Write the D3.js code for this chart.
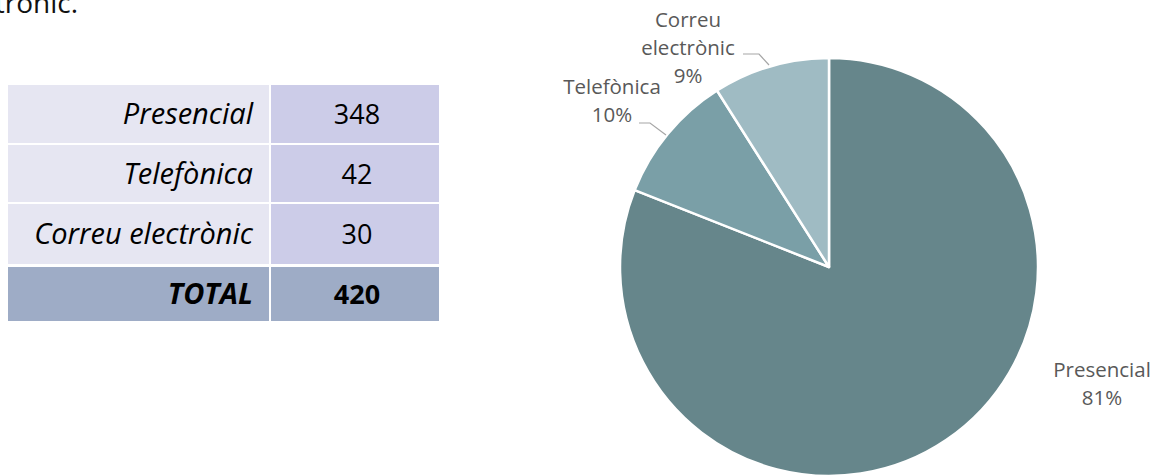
<!DOCTYPE html>
<html>
<head>
<meta charset="utf-8">
<script src="https://cdn.jsdelivr.net/npm/d3@7"></script>
<style>
    body { margin: 0; background: #fff; }
    svg { display: block; font-family: "Open Sans", "Noto Sans", sans-serif; }
</style>
</head>
<body>
<div id="chart"></div>
<script>
// dades de la taula
const tableLabels = ['Presencial', 'Telefònica', 'Correu electrònic'];
const tableValues = [348, 42, 30];
const totalLabel = 'TOTAL';
const totalValue = 420;

// dades del pastís (percentatges mostrats)
const pieLabels = ['Presencial', 'Telefònica', 'Correu electrònic'];
const pieShares = [81, 10, 9];

const PIE_COLORS = ['#66868b', '#7a9fa7', '#9fbbc3'];

const width = 1162;
const height = 476;

const svg = d3.select('#chart')
    .append('svg')
    .attr('width', width)
    .attr('height', height);

// text tallat de dalt a l'esquerra
svg.append('text')
    .attr('x', 78)
    .attr('y', 13)
    .attr('text-anchor', 'end')
    .attr('font-size', 28)
    .attr('fill', '#111')
    .text('electrònic.');

// --- taula ---
const rows = tableLabels.map((l, i) => ({ label: l, value: tableValues[i], total: false }));
rows.push({ label: totalLabel, value: totalValue, total: true });

const rowY = [85, 145, 204, 267];
const rowH = [58, 57, 60, 54];

const table = svg.append('g').attr('class', 'table');
const row = table.selectAll('g')
    .data(rows)
    .join('g')
    .attr('transform', (d, i) => `translate(0,${rowY[i]})`);

row.append('rect')
    .attr('x', 8)
    .attr('width', 261)
    .attr('height', (d, i) => rowH[i])
    .attr('fill', d => d.total ? '#9eacc6' : '#e6e6f2');

row.append('rect')
    .attr('x', 271)
    .attr('width', 168)
    .attr('height', (d, i) => rowH[i])
    .attr('fill', d => d.total ? '#9eacc6' : '#ccccE8');

row.append('text')
    .attr('x', 253)
    .attr('y', (d, i) => rowH[i] / 2 + 10)
    .attr('text-anchor', 'end')
    .attr('font-size', 29)
    .attr('font-style', 'italic')
    .attr('font-weight', d => d.total ? 'bold' : 'normal')
    .attr('fill', '#000')
    .text(d => d.label);

row.append('text')
    .attr('x', 357)
    .attr('y', (d, i) => rowH[i] / 2 + 10)
    .attr('text-anchor', 'middle')
    .attr('font-size', 27)
    .attr('font-weight', d => d.total ? 'bold' : 'normal')
    .attr('fill', '#000')
    .text(d => d.value);

// --- pastís ---
const cx = 829, cy = 267, radius = 209;

const pie = d3.pie().sort(null).value(d => d.share);
const pieData = pie(pieLabels.map((l, i) => ({ label: l, share: pieShares[i] })));
const arc = d3.arc().innerRadius(0).outerRadius(radius);

const pieG = svg.append('g').attr('transform', `translate(${cx},${cy})`);

pieG.selectAll('path')
    .data(pieData)
    .join('path')
    .attr('d', arc)
    .attr('fill', (d, i) => PIE_COLORS[i])
    .attr('stroke', '#fff')
    .attr('stroke-width', 2.5)
    .attr('stroke-linejoin', 'round');

// etiquetes (posicions absolutes, com a l'original)
const labelPos = [
    { x: 1102, y: 377, lines: ['Presencial'] },
    { x: 612, y: 94, lines: ['Telefònica'] },
    { x: 688, y: 27, lines: ['Correu', 'electrònic'] }
];

const labels = svg.append('g').attr('class', 'labels');
pieData.forEach((d, i) => {
    const p = labelPos[i];
    const t = labels.append('text')
        .attr('text-anchor', 'middle')
        .attr('font-size', 20.5)
        .attr('fill', '#595959');
    const lines = p.lines.concat([d.data.share + '%']);
    lines.forEach((s, j) => {
        t.append('tspan')
            .attr('x', p.x)
            .attr('y', p.y + j * 28)
            .text(s);
    });
});

// línies guia
const leaders = [
    [[639, 123], [650, 123], [666, 135]],
    [[743, 54], [759, 54], [769, 65]]
];
svg.append('g')
    .selectAll('path')
    .data(leaders)
    .join('path')
    .attr('d', d => d3.line()(d))
    .attr('fill', 'none')
    .attr('stroke', '#a6a6a6')
    .attr('stroke-width', 1.2);
</script>
</body>
</html>
